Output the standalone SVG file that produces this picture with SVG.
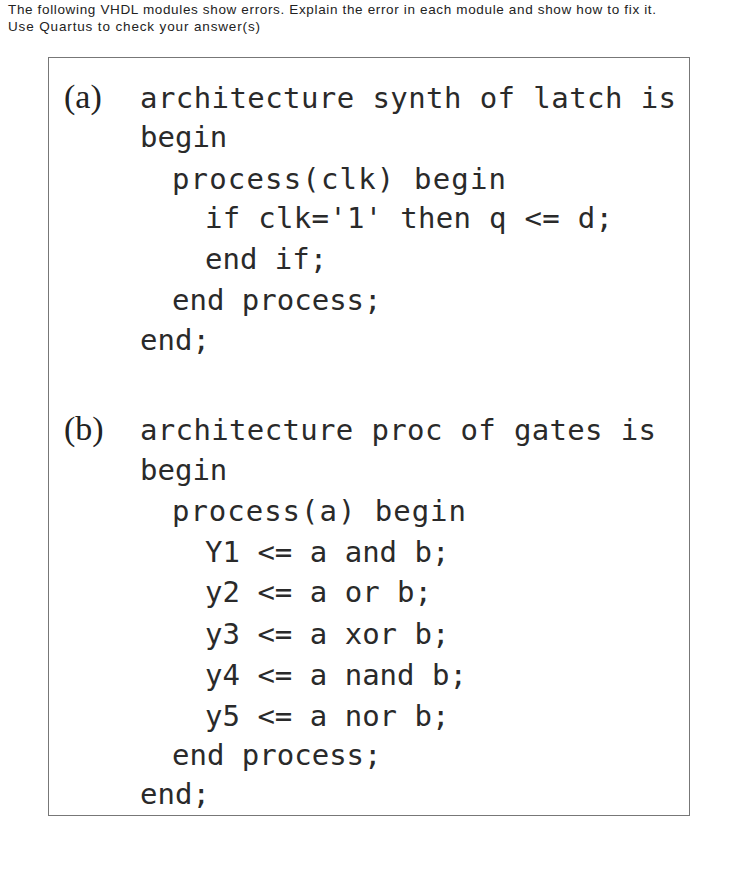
<svg xmlns="http://www.w3.org/2000/svg" width="741" height="869" viewBox="0 0 741 869">
<style>
.h{font-family:"Liberation Sans",Arial,sans-serif;font-size:13.5px;fill:#222}
.c{font-family:"DejaVu Sans Mono",monospace;font-size:29px;fill:#2a2a2a}
.l{font-family:"Liberation Serif",serif;font-size:34px;fill:#222}
</style>
<rect width="741" height="869" fill="#fff"/>
<text class="h" x="8" y="14" textLength="648">The following VHDL modules show errors. Explain the error in each module and show how to fix it.</text>
<text class="h" x="8" y="31" textLength="252">Use Quartus to check your answer(s)</text>
<rect x="48.5" y="57.5" width="641" height="758" fill="none" stroke="#777" stroke-width="1"/>
<g id="a">
<text class="l" x="64" y="108">(a)</text>
<text class="c" x="140" y="108" textLength="536">architecture synth of latch is</text>
<text class="c" x="140" y="147">begin</text>
<text class="c" x="172" y="189" textLength="334">process(clk) begin</text>
<text class="c" x="205" y="228" textLength="408">if clk='1' then q &lt;= d;</text>
<text class="c" x="205" y="269">end if;</text>
<text class="c" x="172" y="310">end process;</text>
<text class="c" x="140" y="350">end;</text>
</g>
<g id="b">
<text class="l" x="64" y="440">(b)</text>
<text class="c" x="140" y="440" textLength="516">architecture proc of gates is</text>
<text class="c" x="140" y="480">begin</text>
<text class="c" x="172" y="521" textLength="294">process(a) begin</text>
<text class="c" x="205" y="562">Y1 &lt;= a and b;</text>
<text class="c" x="205" y="602">y2 &lt;= a or b;</text>
<text class="c" x="205" y="644">y3 &lt;= a xor b;</text>
<text class="c" x="205" y="685">y4 &lt;= a nand b;</text>
<text class="c" x="205" y="726">y5 &lt;= a nor b;</text>
<text class="c" x="172" y="765">end process;</text>
<text class="c" x="140" y="804">end;</text>
</g>
</svg>
